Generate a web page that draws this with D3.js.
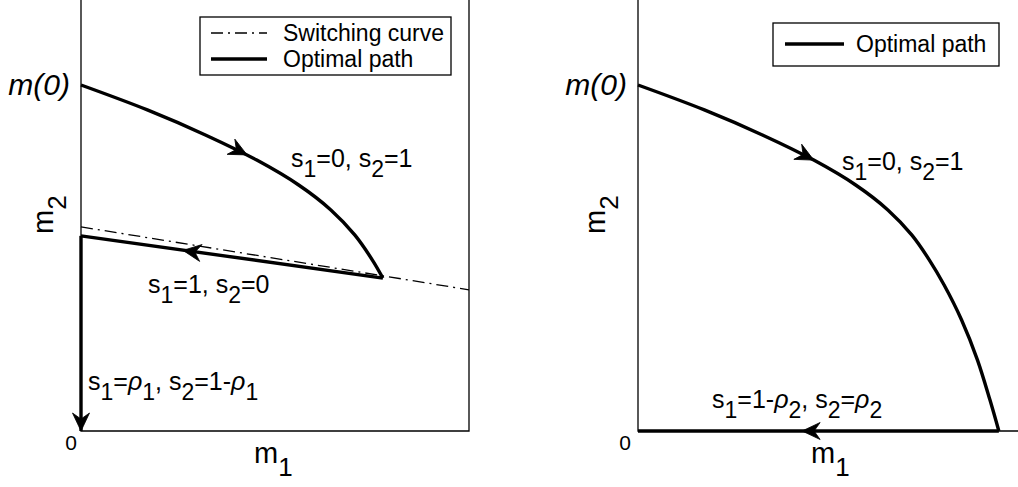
<!DOCTYPE html>
<html>
<head>
<meta charset="utf-8">
<script src="https://cdn.jsdelivr.net/npm/d3@7"></script>
<style>
  html, body { margin: 0; padding: 0; background: #fff; }
  text { font-family: "Liberation Sans", Arial, Helvetica, sans-serif; fill: #000; }
</style>
</head>
<body>
<svg id="chart" width="1018" height="487"></svg>
<script>
// ---------- data (m1, m2 in normalised units, m(0) = 1) ----------
// Left panel: s1=0,s2=1 arc from m(0) to the switching curve
const leftArcM1 = [0, 0.171, 0.322, 0.453, 0.561, 0.644, 0.706, 0.751, 0.778];
const leftArcM2 = [1, 0.928, 0.855, 0.783, 0.711, 0.639, 0.566, 0.494, 0.442];
// Left panel: s1=1,s2=0 segment back to m1=0
const leftSegM1 = [0.778, 0];
const leftSegM2 = [0.442, 0.564];
// Left panel: s1=rho1 segment down the m2 axis
const leftDownM1 = [0, 0];
const leftDownM2 = [0.564, 0];
// Switching curve
const switchM1 = [0, 1];
const switchM2 = [0.590, 0.408];
// Right panel: arc to the m1 axis
const rightArcM1 = [0, 0.171, 0.322, 0.453, 0.561, 0.644, 0.706, 0.751, 0.789, 0.834, 0.875, 0.907, 0.930];
const rightArcM2 = [1, 0.928, 0.855, 0.783, 0.711, 0.639, 0.566, 0.494, 0.422, 0.321, 0.205, 0.090, 0];
// Right panel: back along the m1 axis
const rightBackM1 = [0.930, 0];
const rightBackM2 = [0, 0];
// Arrow heads: [fromM1, fromM2, tipM1, tipM2]
const leftArrows = [[0.377, 0.827, 0.428, 0.798], [0.30, 0.516, 0.263, 0.522], [0, 0.05, 0, 0]];
const rightArrows = [[0.403, 0.812, 0.453, 0.783], [0.47, 0, 0.423, 0]];
// Text
const tickLabels = ["0"];
const leftLegend = ["Switching curve", "Optimal path"];
const rightLegend = ["Optimal path"];

const zip = (a, b) => a.map((v, i) => [v, b[i]]);

const svg = d3.select("#chart");

function panel(opts) {
  const g = svg.append("g");
  const x = d3.scaleLinear().domain([0, 1]).range([opts.x0, opts.x0 + 388]);
  const y = d3.scaleLinear().domain([0, 1]).range([431, 85]);
  const top = y(1.3);

  // frame
  g.append("path")
    .attr("d", `M${x(0)},${top}V${y(0)}H${x(1)}V${top}`)
    .attr("fill", "none").attr("stroke", "#000").attr("stroke-width", 1.3);

  const line = d3.line().x(d => x(d[0])).y(d => y(d[1]));
  const smooth = d3.line().x(d => x(d[0])).y(d => y(d[1])).curve(d3.curveCatmullRom.alpha(0.5));

  (opts.dashed || []).forEach(s => {
    g.append("path").attr("d", line(s)).attr("fill", "none")
      .attr("stroke", "#000").attr("stroke-width", 1.3).attr("stroke-dasharray", "12,5,2,5");
  });
  opts.curves.forEach(s => {
    g.append("path").attr("d", smooth(s)).attr("fill", "none")
      .attr("stroke", "#000").attr("stroke-width", 3.4).attr("stroke-linejoin", "miter");
  });
  opts.arrows.forEach(a => {
    const fx = x(a[0]), fy = y(a[1]), tx = x(a[2]), ty = y(a[3]);
    const ang = Math.atan2(ty - fy, tx - fx) * 180 / Math.PI;
    g.append("path").attr("d", "M0,0L-18,-8.5L-12,0L-18,8.5Z")
      .attr("transform", `translate(${tx},${ty}) rotate(${ang})`)
      .attr("fill", "#000").attr("stroke", "#000").attr("stroke-width", 0.8).attr("stroke-linejoin", "miter");
  });

  // tick label 0
  g.append("text").attr("x", x(0) - opts.zeroGap).attr("y", 450)
    .attr("text-anchor", "end").attr("font-size", 21).text(tickLabels[0]);

  // m(0)
  g.append("text").attr("x", x(0) - opts.m0Gap).attr("y", 95)
    .attr("text-anchor", "end").attr("font-size", 30).attr("font-style", "italic").text("m(0)");

  // axis labels with subscripts
  const xl = g.append("text").attr("x", opts.m1x).attr("y", 463).attr("font-size", 29);
  xl.append("tspan").text("m");
  xl.append("tspan").attr("dy", 13).attr("font-size", 26).text("1");

  const yl = g.append("text").attr("transform", `translate(${opts.m2x},${234}) rotate(-90)`).attr("font-size", 29);
  yl.append("tspan").text("m");
  yl.append("tspan").attr("dy", 13).attr("font-size", 26).text("2");

  // region labels
  opts.labels.forEach(L => {
    const t = g.append("text").attr("x", L.x).attr("y", L.y).attr("font-size", 25);
    let low = false;
    L.parts.forEach(p => {
      const ts = t.append("tspan").text(p.t);
      if (p.sub) { ts.attr("font-size", 23); if (!low) ts.attr("dy", 10); low = true; }
      else { if (low) ts.attr("dy", -10); low = false; }
      if (p.rho) ts.attr("font-style", "italic");
    });
  });

  // legend
  const lg = opts.legend;
  g.append("rect").attr("x", lg.x).attr("y", lg.y).attr("width", lg.w).attr("height", lg.h)
    .attr("fill", "#fff").attr("stroke", "#000").attr("stroke-width", 1.3);
  lg.items.forEach((it, i) => {
    const yy = lg.y + lg.first + i * lg.step;
    g.append("line").attr("x1", lg.x + lg.lx0).attr("x2", lg.x + lg.lx1).attr("y1", yy).attr("y2", yy)
      .attr("stroke", "#000").attr("stroke-width", it.dash ? 1.3 : 3.4)
      .attr("stroke-dasharray", it.dash ? "12,5,2,5" : null);
    g.append("text").attr("x", lg.x + lg.tx).attr("y", yy + 8).attr("font-size", 23).text(it.label);
  });
}

const T = t => ({ t });
const sub = t => ({ t, sub: true });
const rho = { t: "ρ", rho: true };

panel({
  x0: 81,
  dashed: [zip(switchM1, switchM2)],
  curves: [zip(leftArcM1, leftArcM2), zip(leftSegM1, leftSegM2), zip(leftDownM1, leftDownM2)],
  arrows: leftArrows,
  zeroGap: 4, m0Gap: 11, m1x: 254, m2x: 53,
  labels: [
    { x: 291, y: 167, parts: [T("s"), sub("1"), T("=0, s"), sub("2"), T("=1")] },
    { x: 148, y: 293, parts: [T("s"), sub("1"), T("=1, s"), sub("2"), T("=0")] },
    { x: 88, y: 390, parts: [T("s"), sub("1"), T("="), rho, sub("1"), T(", s"), sub("2"), T("=1-"), rho, sub("1")] }
  ],
  legend: { x: 200, y: 17, w: 251, h: 58, first: 16, step: 26, lx0: 11, lx1: 67, tx: 83,
    items: [{ label: leftLegend[0], dash: true }, { label: leftLegend[1] }] }
});

panel({
  x0: 638,
  dashed: [],
  curves: [zip(rightArcM1, rightArcM2), zip(rightBackM1, rightBackM2)],
  arrows: rightArrows,
  zeroGap: 7, m0Gap: 11, m1x: 811, m2x: 605,
  labels: [
    { x: 842, y: 170, parts: [T("s"), sub("1"), T("=0, s"), sub("2"), T("=1")] },
    { x: 712, y: 408, parts: [T("s"), sub("1"), T("=1-"), rho, sub("2"), T(", s"), sub("2"), T("="), rho, sub("2")] }
  ],
  legend: { x: 773, y: 23, w: 226, h: 43, first: 21, step: 26, lx0: 12, lx1: 71, tx: 83,
    items: [{ label: rightLegend[0] }] }
});
</script>
</body>
</html>
